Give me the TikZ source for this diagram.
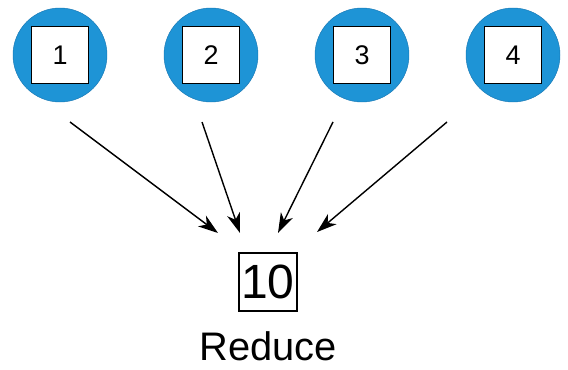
\documentclass[tikz,border=0pt]{standalone}
\usepackage{fontspec}
\setmainfont{Liberation Sans}
\usepackage{xcolor}
\usepackage{tikz}
\usetikzlibrary{arrows.meta,shapes}

\begin{document}
\begin{tikzpicture}[x=0.03cm,y=-0.03cm]
    \definecolor{myblue}{RGB}{30,148,214}
    \definecolor{myedge}{RGB}{24,120,180}

    \tikzstyle{worker}=[circle,fill=myblue,draw=myedge,thin,minimum size=2.82cm,inner sep=0pt]  % 圆形节点
    \tikzstyle{value}=[rectangle,draw,line width=1.2pt,fill=white,minimum size=1.71cm,inner sep=0pt,font=\fontsize{23pt}{27pt}\selectfont]  % 数值方块
    \tikzstyle{result}=[rectangle,draw,line width=0.9pt,minimum size=1.74cm,inner sep=0pt,font=\fontsize{41pt}{46pt}\selectfont]
    \tikzstyle{line}=[line width=1.2pt,-{Stealth[length=6mm,width=4mm,inset=1.8mm]}]

    \useasboundingbox (0,0) rectangle (568,369);

    % 四个输入
    \node[worker](c1) at (60,55) {};
    \node[worker](c2) at (211,55) {};
    \node[worker](c3) at (362,55) {};
    \node[worker](c4) at (513,55) {};
    \node[value](v1) at (c1) {1};
    \node[value](v2) at (c2) {2};
    \node[value](v3) at (c3) {3};
    \node[value](v4) at (c4) {4};

    % 结果
    \node[result](sum) at (268,282) {10};
    \node[font=\fontsize{34pt}{39pt}\selectfont](reduce) at (268,346) {Reduce};

    % 箭头端点
    \coordinate (s1) at (70,122);
    \coordinate (s2) at (202,122);
    \coordinate (s3) at (333,122);
    \coordinate (s4) at (447,122);
    \coordinate (t1) at (218,233);
    \coordinate (t2) at (240,233);
    \coordinate (t3) at (278,233);
    \coordinate (t4) at (317,232);

    % 开始画线
    \draw[line](s1)--(t1);
    \draw[line](s2)--(t2);
    \draw[line](s3)--(t3);
    \draw[line](s4)--(t4);
\end{tikzpicture}
\end{document}
